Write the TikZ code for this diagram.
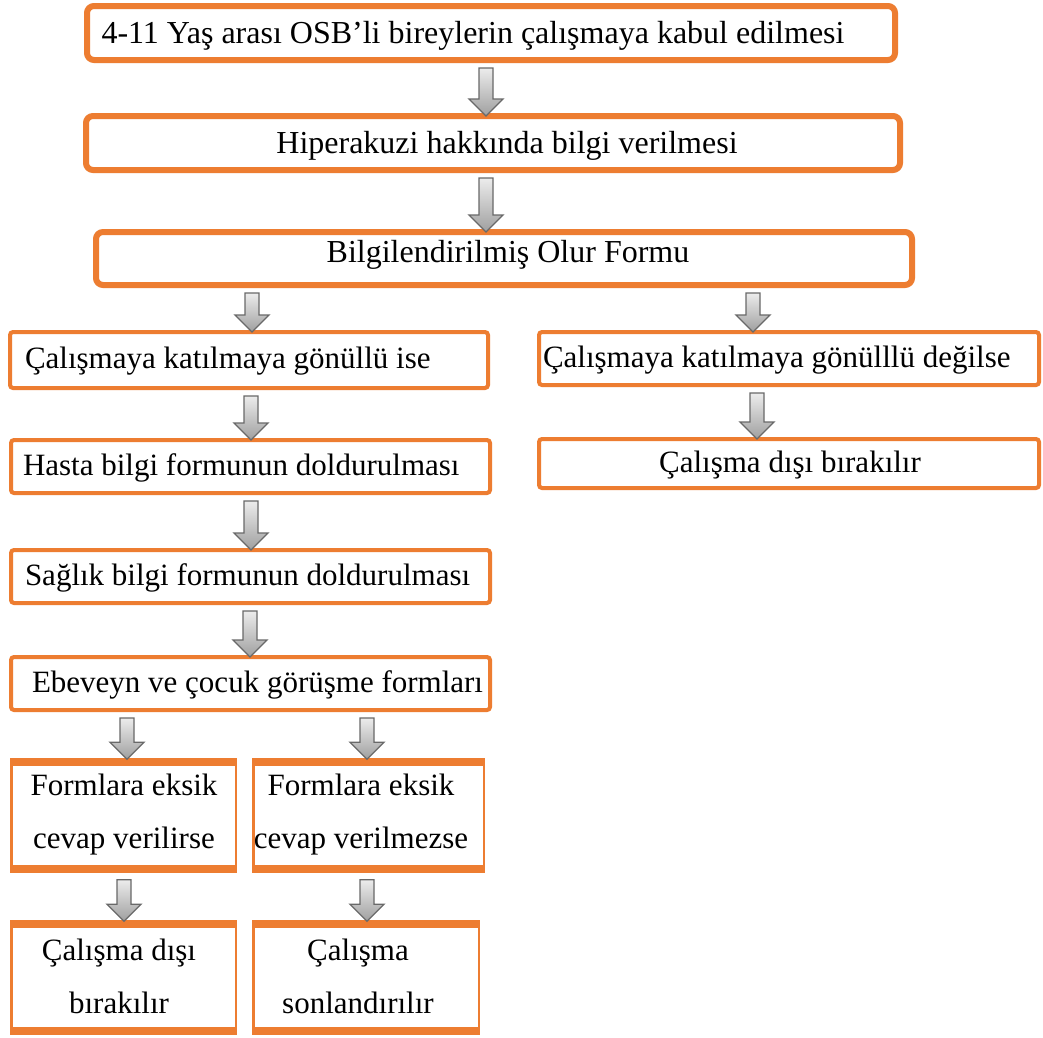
\documentclass[tikz,border=0pt]{standalone}
\usepackage{fontspec}
\setmainfont{Liberation Serif}
\usetikzlibrary{calc}
\definecolor{orng}{RGB}{237,125,49}
\definecolor{arrline}{RGB}{105,105,105}
\tikzset{
  topbox/.style={draw=orng, line width=6pt, rounded corners=7pt, fill=white, inner sep=0pt, outer sep=0pt, anchor=north west},
  midbox/.style={draw=orng, line width=4pt, rounded corners=3pt, fill=white, inner sep=0pt, outer sep=0pt, anchor=north west},
  lowbox/.style={draw=orng, line width=2.5pt, fill=white, inner sep=0pt, outer sep=0pt, anchor=north west},
  band/.style={draw=orng, line width=8pt},
  txt/.style={font=\fontsize{31}{36}\selectfont, inner sep=0pt, outer sep=0pt},
  toptxt/.style={font=\fontsize{32}{36}\selectfont, inner sep=0pt, outer sep=0pt},
  txttwo/.style={font=\fontsize{31}{53}\selectfont, inner sep=0pt, outer sep=0pt, align=center},
  blockarrow/.style={draw=arrline, line width=1.3pt, top color=gray!15, bottom color=gray!75, line join=miter}
}
\newcommand{\flowarrow}[3]{%
  \path[blockarrow] let \p1=(#1,0 |- #2.south), \p2=(#1,0 |- #3.north) in
    (\x1-7pt,\y1-8pt) -- (\x1+7pt,\y1-8pt) -- (\x1+7pt,\y2+17pt) -- (\x1+17pt,\y2+17pt)
    -- (\x1,\y2) -- (\x1-17pt,\y2+17pt) -- (\x1-7pt,\y2+17pt) -- cycle;}
\newcommand{\bands}[1]{%
  \draw[band] ([xshift=-1.25pt,yshift=-2.75pt]#1.north west) -- ([xshift=1.25pt,yshift=-2.75pt]#1.north east);
  \draw[band] ([xshift=-1.25pt,yshift=2.75pt]#1.south west) -- ([xshift=1.25pt,yshift=2.75pt]#1.south east);}
\begin{document}
\begin{tikzpicture}[x=1pt,y=-1pt]
\useasboundingbox (0,0) rectangle (1043,1037);
\fill[white] (0,0) rectangle (1043,1037);

% top boxes
\node[topbox, minimum width=808pt, minimum height=54pt] (b1) at (87,6) {};
\node[topbox, minimum width=814pt, minimum height=54pt] (b2) at (86,116) {};
\node[topbox, minimum width=816pt, minimum height=53pt] (b3) at (96,232) {};

% middle boxes
\node[midbox, minimum width=478pt, minimum height=56pt] (b4l) at (10,332) {};
\node[midbox, minimum width=500pt, minimum height=53pt] (b4r) at (539,332) {};
\node[midbox, minimum width=500pt, minimum height=49pt] (b5r) at (539,439) {};
\node[midbox, minimum width=479pt, minimum height=53pt] (b5) at (11,440) {};
\node[midbox, minimum width=479pt, minimum height=53pt] (b6) at (11,550) {};
\node[midbox, minimum width=479pt, minimum height=53pt] (b7) at (11,657) {};

% lower boxes
\node[lowbox, minimum width=224.5pt, minimum height=112.5pt] (b8a) at (11.25,759.25) {};
\node[lowbox, minimum width=230.5pt, minimum height=112.5pt] (b8b) at (253.25,759.25) {};
\node[lowbox, minimum width=224.5pt, minimum height=112.5pt] (b9a) at (11.25,921.25) {};
\node[lowbox, minimum width=225.5pt, minimum height=112.5pt] (b9b) at (253.25,921.25) {};
\bands{b8a}\bands{b8b}\bands{b9a}\bands{b9b}

% texts
\node[toptxt, anchor=base] (t1) at (473,43) {4-11 Yaş arası OSB’li bireylerin çalışmaya kabul edilmesi};
\node[toptxt, anchor=base] (t2) at (507,153) {Hiperakuzi hakkında bilgi verilmesi};
\node[toptxt, anchor=base] (t3) at (508,262) {Bilgilendirilmiş Olur Formu};
\node[txt, anchor=base west] (t4l) at (25,368) {Çalışmaya katılmaya gönüllü ise};
\node[txt, anchor=base west] (t4r) at (543,367) {Çalışmaya katılmaya gönülllü değilse};
\node[txt, anchor=base] (t5r) at (790,472) {Çalışma dışı bırakılır};
\node[txt, anchor=base west] (t5) at (23,475) {Hasta bilgi formunun doldurulması};
\node[txt, anchor=base west] (t6) at (25,585) {Sağlık bilgi formunun doldurulması};
\node[txt, anchor=base west] (t7) at (32,692) {Ebeveyn ve çocuk görüşme formları};
\node[txttwo] (t8a) at (124,815) {Formlara eksik\\cevap verilirse};
\node[txttwo] (t8b) at (361,815) {Formlara eksik\\cevap verilmezse};
\node[txttwo] (t9a) at (119,976) {Çalışma dışı\\bırakılır};
\node[txttwo] (t9b) at (358,976) {Çalışma\\sonlandırılır};

% arrows
\flowarrow{486}{b1}{b2}
\flowarrow{486}{b2}{b3}
\flowarrow{252}{b3}{b4l}
\flowarrow{753}{b3}{b4r}
\flowarrow{757}{b4r}{b5r}
\flowarrow{251}{b4l}{b5}
\flowarrow{251}{b5}{b6}
\flowarrow{250}{b6}{b7}
\flowarrow{127}{b7}{b8a}
\flowarrow{367}{b7}{b8b}
\flowarrow{124}{b8a}{b9a}
\flowarrow{367}{b8b}{b9b}
\end{tikzpicture}
\end{document}
